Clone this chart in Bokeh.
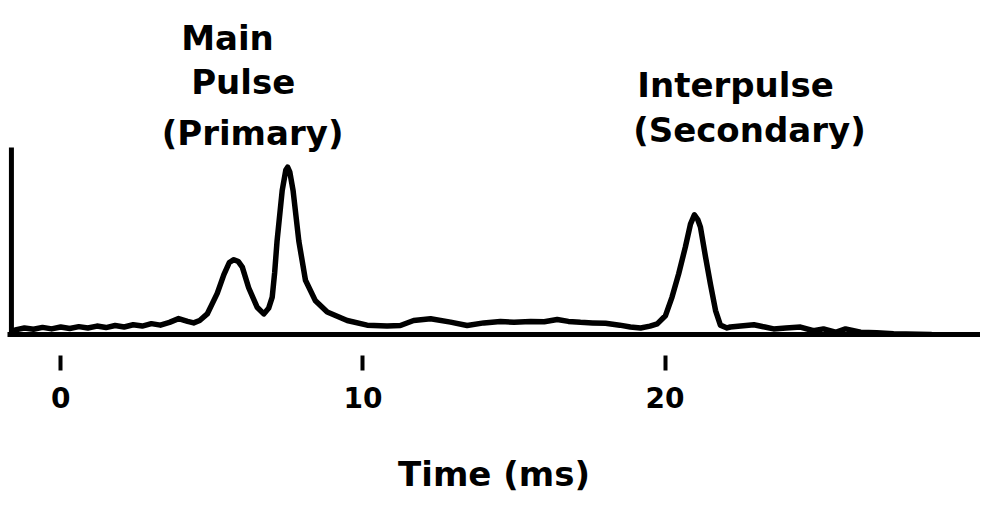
from bokeh.plotting import figure
from bokeh.models import Range1d, FixedTicker, Label
from bokeh.embed import file_html
from bokeh.resources import INLINE

# Pulse profile (time in ms, relative intensity)
TIME_MS = [-1.5, -1.2, -0.9, -0.6, -0.3, 0.0, 0.3, 0.6, 0.9, 1.2, 1.5, 1.8, 2.1, 2.4, 2.7,
           3.0, 3.3, 3.6, 3.9, 4.2, 4.4, 4.6, 4.85, 5.0, 5.18, 5.40, 5.58, 5.73, 5.88, 6.01,
           6.22, 6.50, 6.72, 6.88, 7.00, 7.08, 7.16, 7.33, 7.45, 7.51, 7.58, 7.69, 7.88, 8.10,
           8.43, 8.82, 9.48, 10.14, 10.8, 11.24, 11.68, 12.24, 12.9, 13.45, 14.0, 14.55, 15.0,
           15.55, 16.0, 16.43, 16.8, 17.2, 17.6, 18.03, 18.5, 18.85, 19.19, 19.50, 19.74, 20.01,
           20.23, 20.45, 20.67, 20.84, 20.97, 21.08, 21.17, 21.34, 21.50, 21.67, 21.83, 22.05,
           22.16, 22.5, 22.94, 23.3, 23.59, 24.0, 24.48, 24.91, 25.24, 25.64, 25.97, 26.47,
           27.0, 27.56, 28.8]
INTENSITY = [0.025, 0.035, 0.028, 0.038, 0.030, 0.040, 0.032, 0.042, 0.035, 0.045, 0.037, 0.048,
             0.040, 0.052, 0.045, 0.058, 0.050, 0.065, 0.085, 0.070, 0.062, 0.075, 0.110, 0.160,
             0.220, 0.320, 0.385, 0.400, 0.390, 0.360, 0.250, 0.146, 0.110, 0.140, 0.200, 0.330,
             0.500, 0.770, 0.880, 0.895, 0.870, 0.770, 0.500, 0.290, 0.180, 0.120, 0.075, 0.050,
             0.045, 0.048, 0.075, 0.084, 0.066, 0.048, 0.062, 0.070, 0.065, 0.070, 0.068, 0.080,
             0.070, 0.065, 0.062, 0.060, 0.050, 0.040, 0.035, 0.045, 0.057, 0.100, 0.200, 0.325,
             0.467, 0.590, 0.640, 0.615, 0.574, 0.413, 0.270, 0.128, 0.050, 0.035, 0.040, 0.045,
             0.052, 0.040, 0.030, 0.035, 0.040, 0.020, 0.030, 0.012, 0.030, 0.012, 0.010, 0.004,
             0.0]

X_TICKS = [0, 10, 20]
X_LABEL = "Time (ms)"

# vertical (intensity) axis: drawn from 0 to full scale at the left edge
Y_AXIS_TIME = -1.63
Y_AXIS_SPAN = [0.0, 1.0]

# annotation texts with anchor (time, intensity)
ANNOT_TEXT = ["Main", "Pulse", "(Primary)", "Interpulse", "(Secondary)"]
ANNOT_X = [5.52, 6.04, 6.35, 22.33, 22.79]
ANNOT_Y = [1.583, 1.348, 1.080, 1.332, 1.091]

FONT = "DejaVu Sans"
INK = "#000000"

p = figure(frame_width=973, frame_height=334,
           x_range=Range1d(-1.760, 30.437), y_range=Range1d(0, 1.786),
           output_backend="svg", toolbar_location=None,
           min_border_left=7, min_border_right=0, min_border_top=0, min_border_bottom=170)
p.outline_line_color = None
p.grid.visible = False
p.background_fill_color = "white"
p.border_fill_color = "white"
p.yaxis.visible = False

p.segment(x0=[Y_AXIS_TIME], y0=[Y_AXIS_SPAN[0]], x1=[Y_AXIS_TIME], y1=[Y_AXIS_SPAN[1]],
          line_width=5, line_color=INK, line_cap="butt")

p.line(TIME_MS, INTENSITY, line_width=5.5, line_color=INK, line_join="round", line_cap="round")

# x axis
xa = p.xaxis[0]
xa.ticker = FixedTicker(ticks=X_TICKS)
xa.axis_line_width = 5
xa.axis_line_color = INK
xa.major_tick_in = -21
xa.major_tick_out = 36
xa.major_tick_line_width = 4
xa.major_tick_line_color = INK
xa.minor_tick_out = 0
xa.minor_tick_in = 0
xa.major_label_standoff = 16
xa.major_label_text_font = FONT
xa.major_label_text_font_style = "bold"
xa.major_label_text_font_size = "28px"
xa.major_label_text_color = INK
xa.axis_label = X_LABEL
xa.axis_label_text_font = FONT
xa.axis_label_text_font_style = "bold"
xa.axis_label_text_font_size = "34px"
xa.axis_label_text_color = INK
xa.axis_label_standoff = 43

for t, x, y in zip(ANNOT_TEXT, ANNOT_X, ANNOT_Y):
    p.add_layout(Label(x=x, y=y, text=t, text_align="center", text_baseline="alphabetic",
                       text_font=FONT, text_font_style="bold", text_font_size="34px",
                       text_color=INK))

open("out.html", "w").write(file_html(p, INLINE))
